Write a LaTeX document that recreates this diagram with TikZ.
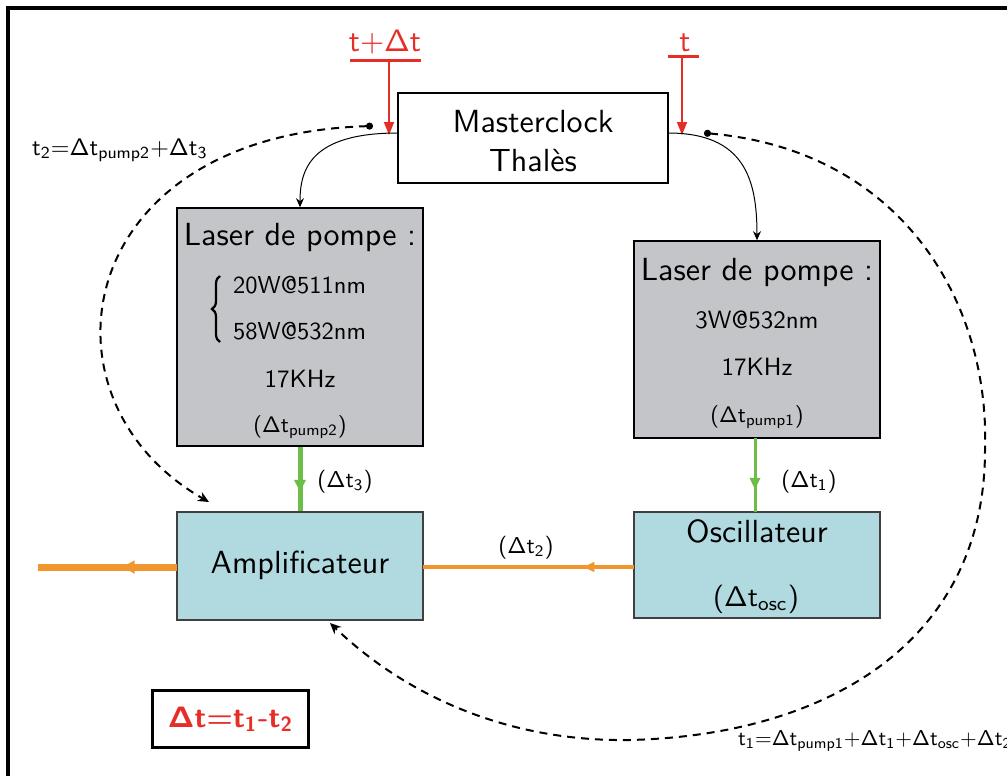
\documentclass[tikz,border=0pt]{standalone}
\usetikzlibrary{arrows.meta,decorations.markings,decorations.pathreplacing}
\definecolor{cred}{RGB}{230,45,40}
\definecolor{cgray}{RGB}{196,197,200}
\definecolor{cblue}{RGB}{176,218,224}
\definecolor{cgreen}{RGB}{108,190,72}
\definecolor{corange}{RGB}{240,150,45}
\newcommand{\T}[2]{\scalebox{#1}{\fontsize{10}{12}\sffamily\selectfont #2}}
\newcommand{\boldsf}[1]{{\boldmath$\mathsf{#1}$}}
\begin{document}
\begin{tikzpicture}[x=1pt,y=-1pt,font=\sffamily,
  box/.style={draw=black,line width=1.6pt,inner sep=0pt},
  graybox/.style={box,fill=cgray},
  bluebox/.style={draw=black!75,line width=1.6pt,fill=cblue,inner sep=0pt},
  txt/.style={inner sep=0pt,anchor=base},
  redarr/.style={draw=cred,line width=1.8pt,-{Triangle[length=13pt,width=10pt]}},
  redbar/.style={draw=cred,line width=3pt},
  thinarr/.style={draw=black,line width=1pt,-{Stealth[length=9pt,width=8pt]}},
  dasharr/.style={draw=black,line width=2pt,dash pattern=on 8pt off 6pt,{Circle[length=7pt,width=7pt]}-{Stealth[length=11pt,width=10pt]}},
  midarr/.style 2 args={postaction={decorate},decoration={markings,mark=at position #1 with {\arrow{#2}}}},
]
\useasboundingbox (0,0) rectangle (1007,776);
\fill[white] (0,0) rectangle (1007,776);
\draw[line width=4pt] (8,780) -- (8,8) -- (1010,8);

% Masterclock
\node[box,fill=white,minimum width=270pt,minimum height=90pt] (mc) at (533,138) {};
\node[txt] (mc1) at (533,132) {\T{3.2}{Masterclock}};
\node[txt] (mc2) at (533,171) {\T{3.2}{Thalès}};

% red inputs
\node[txt,text=cred] (ltdt) at (385,52) {\T{3.1}{$\mathsf{t{+}\Delta t}$}};
\node[txt,text=cred] (lt) at (685,52) {\T{3.1}{$\mathsf{t}$}};
\coordinate (barL1) at (350,61); \coordinate (barL2) at (421,61);
\coordinate (barR1) at (668,57); \coordinate (barR2) at (699,57);
\draw[redbar] (barL1) -- (barL2);
\draw[redbar] (barR1) -- (barR2);
\coordinate (inL0) at (389,61); \coordinate (inL) at (389,135);
\coordinate (inR0) at (682,57); \coordinate (inR) at (682,135);
\draw[redarr] (inL0) -- (inL);
\draw[redarr] (inR0) -- (inR);

% lasers
\node[graybox,minimum width=246pt,minimum height=238pt] (lasL) at (300,327) {};
\node[graybox,minimum width=246pt,minimum height=197pt] (lasR) at (757,339.5) {};
\node[txt] (lasL1) at (300,245) {\T{3.2}{Laser de pompe :}};
\node[txt,anchor=base west] (lasL2) at (233,293) {\T{2.45}{20W@511nm}};
\node[txt,anchor=base west] (lasL3) at (233,339) {\T{2.45}{58W@532nm}};
\coordinate (brB) at (220,342); \coordinate (brT) at (220,276);
\draw[line width=2.2pt,decorate,decoration={brace,amplitude=8pt}] (brB) -- (brT);
\node[txt] (lasL4) at (300,387) {\T{2.5}{17KHz}};
\node[txt] (lasL5) at (300,432) {\T{2.25}{($\mathsf{\Delta t_{pump2}}$)}};
\node[txt] (lasR1) at (757,280) {\T{3.2}{Laser de pompe :}};
\node[txt] (lasR2) at (757,328) {\T{2.5}{3W@532nm}};
\node[txt] (lasR3) at (757,375) {\T{2.5}{17KHz}};
\node[txt] (lasR4) at (757,422) {\T{2.25}{($\mathsf{\Delta t_{pump1}}$)}};

% blue boxes
\node[bluebox,minimum width=246pt,minimum height=108pt] (amp) at (300,566) {};
\node[bluebox,minimum width=246pt,minimum height=106pt] (osc) at (757,565) {};
\node[txt] (amp1) at (300,573) {\T{3.2}{Amplificateur}};
\node[txt] (osc1) at (757,542) {\T{3.2}{Oscillateur}};
\node[txt] (osc2) at (756,606) {\T{2.85}{($\mathsf{\Delta t_{osc}}$)}};

% thin black curved arrows
\coordinate (mcL) at (398,133); \coordinate (mcR) at (668,133);
\draw[thinarr] (mcL) .. controls (310,133) and (300,170) .. (lasL.north);
\draw[thinarr] (mcR) .. controls (745,133) and (757,180) .. (lasR.north);

% green arrows
\coordinate (lasRb) at (755,438); \coordinate (oscT) at (755,512);
\draw[draw=cgreen,line width=5pt,midarr={0.7}{Triangle[length=12pt,width=11pt]}] (lasL.south) -- (amp.north);
\draw[draw=cgreen,line width=3pt,midarr={0.7}{Triangle[length=12pt,width=10pt]}] (lasRb) -- (oscT);
\node[txt] (d3) at (345,487) {\T{2.3}{($\mathsf{\Delta t_3}$)}};
\node[txt] (d1) at (809,487) {\T{2.3}{($\mathsf{\Delta t_1}$)}};

% orange arrows
\coordinate (out) at (38,567);
\coordinate (oscW) at (634,567); \coordinate (ampE) at (423,567); \coordinate (ampW) at (177,567);
\draw[draw=corange,line width=3.5pt,midarr={0.25}{Latex[length=13pt,width=11pt]}] (oscW) -- (ampE);
\draw[draw=corange,line width=7pt,midarr={0.42}{Latex[length=16pt,width=14pt]}] (ampW) -- (out);
\node[txt] (d2) at (526,553) {\T{2.3}{($\mathsf{\Delta t_2}$)}};

% dashed feedback
\coordinate (dotL) at (373,126); \coordinate (ampTL) at (209,502);
\coordinate (dotR) at (704,133); \coordinate (ampB) at (330,623);
\coordinate (rR) at (985,450); \coordinate (rB) at (630,740);
\draw[dasharr] (dotL) .. controls (70,135) and (30,400) .. (ampTL);
\draw[dasharr] (dotR) .. controls (900,150) and (990,300) .. (rR) .. controls (985,640) and (830,735) .. (rB) .. controls (500,742) and (400,690) .. (ampB);

% formulas
\node[txt,anchor=base west] (f2) at (32,155) {\T{2.4}{$\mathsf{t_2{=}\Delta t_{pump2}{+}\Delta t_3}$}};
\node[txt,anchor=base west] (f1) at (738,745) {\T{2.15}{$\mathsf{t_1{=}\Delta t_{pump1}{+}\Delta t_1{+}\Delta t_{osc}{+}\Delta t_2}$}};

% result box
\node[draw=black,line width=3pt,minimum width=156pt,minimum height=57pt,inner sep=0pt,text=cred] (res) at (230.5,719) {\T{2.95}{\boldsf{\Delta t{=}t_1}\textbf{-}\boldsf{t_2}}};
\end{tikzpicture}
\end{document}
